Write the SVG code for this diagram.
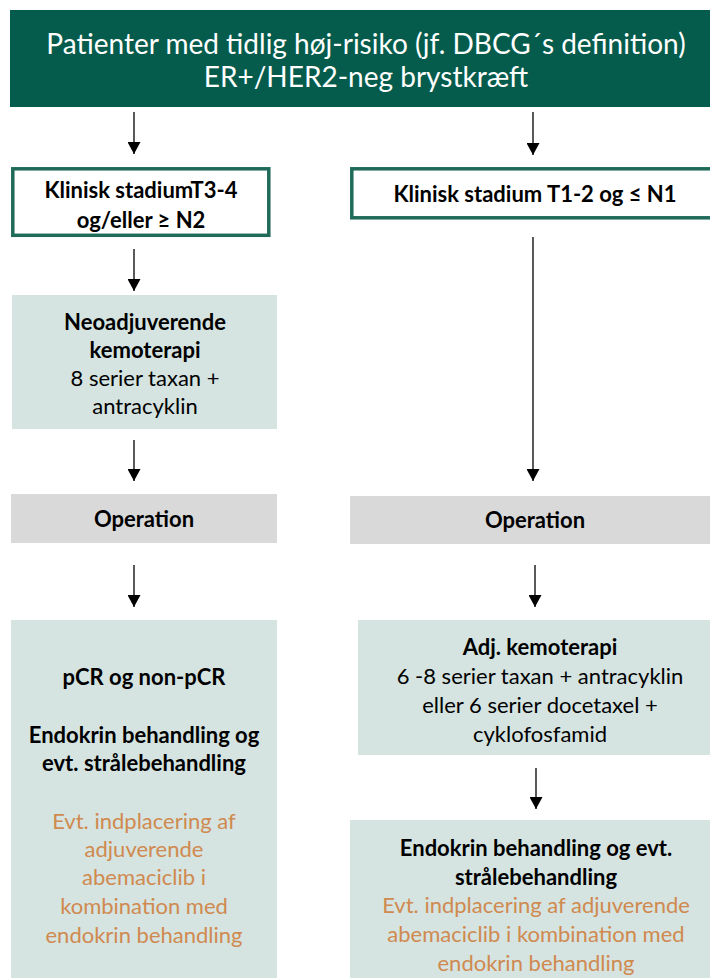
<svg xmlns="http://www.w3.org/2000/svg" width="710" height="978" viewBox="0 0 710 978">
<defs>
<marker id="ah" markerUnits="userSpaceOnUse" markerWidth="13" markerHeight="13" refX="12" refY="6.5" orient="auto" viewBox="0 0 13 13">
<path d="M0,0 L12,6.5 L0,13 Z" fill="#000"/>
</marker>
</defs>
<style>
text{font-family:Lato,"Open Sans","Liberation Sans",sans-serif;text-anchor:middle;font-size:22px;fill:#000}
.hd{fill:#fff;font-size:28px}
.b{font-weight:bold}
.o{fill:#d0894f}
.conn line{stroke:#000;stroke-width:1.3}
.g{fill:#d5e4e0}
.gr{fill:#d9d9d9}
.ob{fill:#fff;stroke:#1f6a59;stroke-width:3.5}
</style>
<rect width="710" height="978" fill="#fff"/>
<g id="header">
<rect x="10" y="10" width="700" height="97" fill="#055c4c"/>
<text class="hd" x="366" y="54">Patienter med tidlig høj-risiko (jf. DBCG´s definition)</text>
<text class="hd" x="366" y="87">ER+/HER2-neg brystkræft</text>
</g>
<g id="stage-t34">
<rect class="ob" x="12.8" y="168.8" width="256" height="66.5"/>
<text class="b" x="141" y="198">Klinisk stadiumT3-4</text>
<text class="b" x="141" y="228">og/eller ≥ N2</text>
</g>
<g id="stage-t12">
<rect class="ob" x="351.8" y="168.8" width="360" height="49"/>
<text class="b" x="535" y="202">Klinisk stadium T1-2 og ≤ N1</text>
</g>
<g id="neoadj">
<rect class="g" x="12" y="295" width="265" height="134"/>
<text class="b" x="145" y="330">Neoadjuverende</text>
<text class="b" x="145" y="358">kemoterapi</text>
<text x="145" y="386">8 serier taxan +</text>
<text x="145" y="414">antracyklin</text>
</g>
<g id="op-left">
<rect class="gr" x="11" y="494" width="266" height="49"/>
<text class="b" x="144" y="527">Operation</text>
</g>
<g id="op-right">
<rect class="gr" x="350" y="496" width="360" height="48"/>
<text class="b" x="535" y="528">Operation</text>
</g>
<g id="result-left">
<rect class="g" x="11" y="620" width="266" height="358"/>
<text class="b" x="144" y="685">pCR og non-pCR</text>
<text class="b" x="144" y="743">Endokrin behandling og</text>
<text class="b" x="144" y="771">evt. strålebehandling</text>
<text class="o" x="144" y="829">Evt. indplacering af</text>
<text class="o" x="144" y="857">adjuverende</text>
<text class="o" x="144" y="885">abemaciclib i</text>
<text class="o" x="144" y="914">kombination med</text>
<text class="o" x="144" y="943">endokrin behandling</text>
</g>
<g id="adj-kemo">
<rect class="g" x="358" y="620" width="352" height="135"/>
<text class="b" x="540" y="655">Adj. kemoterapi</text>
<text x="540" y="684">6 -8 serier taxan + antracyklin</text>
<text x="540" y="713">eller 6 serier docetaxel +</text>
<text x="540" y="742">cyklofosfamid</text>
</g>
<g id="result-right">
<rect class="g" x="350" y="820" width="360" height="158"/>
<text class="b" x="536" y="856">Endokrin behandling og evt.</text>
<text class="b" x="536" y="885">strålebehandling</text>
<text class="o" x="536" y="913">Evt. indplacering af adjuverende</text>
<text class="o" x="536" y="942">abemaciclib i kombination med</text>
<text class="o" x="536" y="971">endokrin behandling</text>
</g>
<g id="connectors" class="conn">
<line x1="134" y1="112" x2="134" y2="154" marker-end="url(#ah)"/>
<line x1="533" y1="112" x2="533" y2="155" marker-end="url(#ah)"/>
<line x1="134" y1="249" x2="134" y2="291" marker-end="url(#ah)"/>
<line x1="533" y1="237" x2="533" y2="481" marker-end="url(#ah)"/>
<line x1="134" y1="440" x2="134" y2="481" marker-end="url(#ah)"/>
<line x1="134" y1="565" x2="134" y2="607" marker-end="url(#ah)"/>
<line x1="535" y1="565" x2="535" y2="607" marker-end="url(#ah)"/>
<line x1="536" y1="768" x2="536" y2="809" marker-end="url(#ah)"/>
</g>
</svg>
